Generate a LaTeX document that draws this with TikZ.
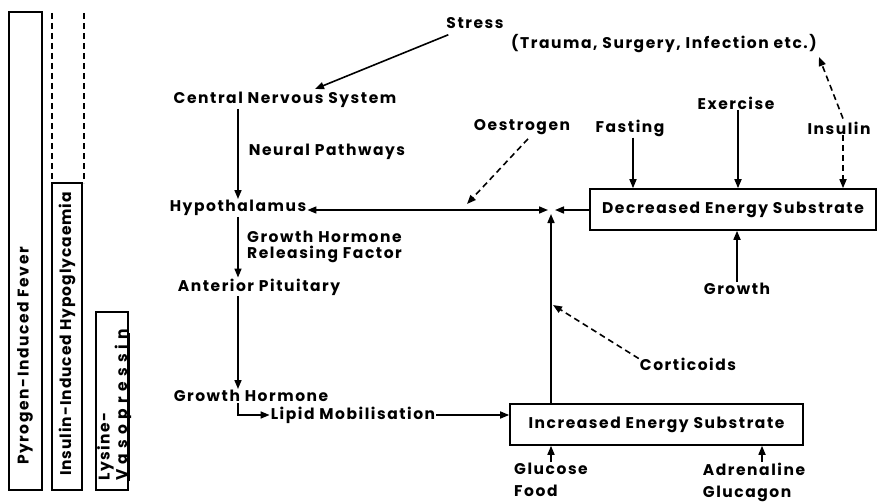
\documentclass[tikz,border=0pt]{standalone}
\usepackage{fontspec}
\setmainfont{Poppins}[LetterSpace=10]
\usetikzlibrary{arrows.meta,calc}
\begin{document}
\begin{tikzpicture}[x=1pt,y=-1pt,
  lbl/.style={font=\fontsize{15.5}{16}\selectfont\bfseries, inner sep=1pt},
  lbltwo/.style={font=\fontsize{15.5}{22}\selectfont\bfseries, inner sep=1pt, align=left, anchor=north},
  ln/.style={line width=1.6pt},
  arr/.style={ln, -{Triangle[length=9pt,width=7pt]}},
  darr/.style={arr, dash pattern=on 6pt off 4pt},
  dbl/.style={ln, {Triangle[length=9pt,width=7pt]}-{Triangle[length=9pt,width=7pt]}},
  boxn/.style={lbl, draw, ln, minimum height=41pt, inner sep=0pt},
  bar/.style={line width=1.5pt},
  dashbar/.style={line width=1.5pt, dash pattern=on 6pt off 4pt}]
\useasboundingbox (0,0) rectangle (878,503);

% left bars
\draw[bar] (9,12) rectangle (42,490);
\node[lbl, rotate=90] (pif) at (25,356) {Pyrogen-Induced Fever};
\draw[bar] (52,183) rectangle (82,490);
\draw[dashbar] (52,13) -- (52,183);
\draw[dashbar] (84,13) -- (84,183);
\node[lbl, rotate=90, font=\fontsize{15.5}{16}\selectfont\bfseries\addfontfeature{LetterSpace=6}] (iih) at (67,334) {Insulin-Induced Hypoglycaemia};
\draw[bar] (96,312) rectangle (128,490);
\node[lbl, rotate=90, align=left, anchor=north west, inner sep=0pt, font=\fontsize{15.5}{13}\selectfont\bfseries] (lv) at (97,481) {Lysine-\\{\addfontfeature{LetterSpace=34}Vasopressin}};
\draw[line width=1.1pt] ([xshift=-2pt]lv.south west) -- ([xshift=-2pt,yshift=-4pt]lv.south east);

% main nodes
\node[lbl] (stress) at (475,23) {Stress};
\node[lbl] (trauma) at (664,44) {(Trauma, Surgery, Infection etc.)};
\node[lbl] (cns) at (285,100) {Central Nervous System};
\node[lbl] (np) at (327,152) {Neural Pathways};
\node[lbl] (hyp) at (238,208) {Hypothalamus};
\node[lbl, align=left, anchor=west] (ghrf) at (246,247) {Growth Hormone\\Releasing Factor};
\node[lbl] (ap) at (259,287) {Anterior Pituitary};
\node[lbl] (gh) at (251,396) {Growth Hormone};
\node[lbl] (lm) at (353,415) {Lipid Mobilisation};
\node[boxn, minimum width=293pt] (ies) at (656.5,424.5) {Increased Energy Substrate};
\node[boxn, minimum width=286pt] (des) at (733,209.5) {Decreased Energy Substrate};
\node[lbl] (oes) at (522,127) {Oestrogen};
\node[lbl] (fast) at (630,128) {Fasting};
\node[lbl] (exer) at (736,103) {Exercise};
\node[lbl] (ins) at (839,128) {Insulin};
\node[lbl] (gro) at (737,289) {Growth};
\node[lbl] (cort) at (688,364) {Corticoids};
\node[lbltwo] (glu) at (551,462) {Glucose\\Food};
\node[lbltwo] (adr) at (754,462) {Adrenaline\\Glucagon};

\coordinate (J) at (551,210);
\coordinate (oesT) at (467,204);
\coordinate (cortT) at (553,305);
\coordinate (insT) at (819,57);
\coordinate (adrA) at (762,462);

% connectors
\draw[arr] ($(stress.south west)+(3,5)$) -- ($(cns.north)+(30,-2)$);
\draw[arr] (hyp.north |- cns.south) -- (hyp.north);
\draw[arr] (hyp.south) -- (hyp.south |- ap.north);
\draw[arr] (hyp.south |- ap.south) -- (hyp.south |- gh.north);
\draw[arr] (hyp.south |- gh.south) -- (hyp.south |- lm.west) -- (lm.west);
\draw[arr] (lm.east) -- (lm.east -| ies.west);
\draw[dbl, shorten >=3pt] (hyp.east |- J) -- (J);
\draw[arr, shorten >=4pt] (des.west |- J) -- (J);
\draw[arr, shorten >=4pt] (ies.north -| J) -- (J);
\draw[darr] ($(oes.south)+(6,3)$) -- (oesT);
\draw[arr] (fast.south -| 633,0) -- (633,0 |- des.north);
\draw[arr] (exer.south -| 738,0) -- (738,0 |- des.north);
\draw[darr] (ins.south -| 843,0) -- (843,0 |- des.north);
\draw[darr] ($(ins.north)+(4,-2)$) -- (insT);
\draw[arr] (gro.north) -- (gro.north |- des.south);
\draw[darr] ($(cort.north west)+(0,2)$) -- (cortT);
\draw[arr] (glu.north -| J) -- (J |- ies.south);
\draw[arr] (adrA) -- (adrA |- ies.south);
\end{tikzpicture}
\end{document}
